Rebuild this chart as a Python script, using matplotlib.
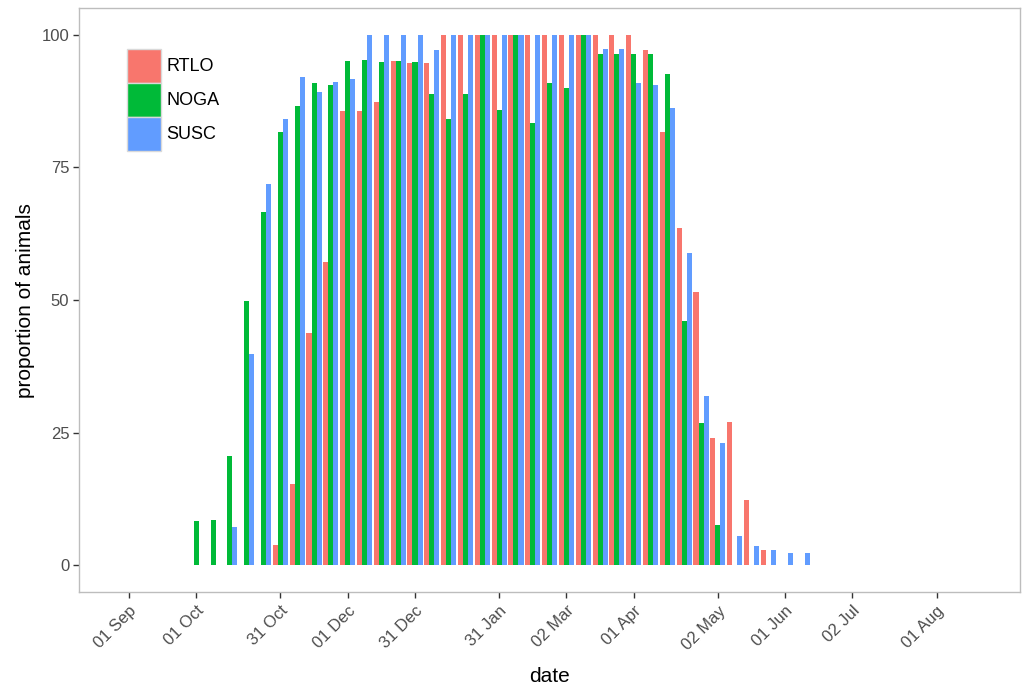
import numpy as np
import matplotlib
matplotlib.use("Agg")
import matplotlib.pyplot as plt
from matplotlib.patches import Patch

plt.rcParams['font.family'] = ['Liberation Sans', 'DejaVu Sans']

# weekly bins, week 0 = 01 Sep
weeks = list(range(4, 41))

rtlo = [0, 0, 0, 0, 0, 3.8, 15.4, 43.9, 57.1, 85.7, 85.7, 87.3, 95.1, 94.7, 94.7,
        100, 100, 100, 100, 100, 100, 100, 100, 100, 100, 100, 100, 97.1, 81.7,
        63.6, 51.5, 24.1, 27.1, 12.3, 3.0, 0, 0]
noga = [8.3, 8.6, 20.7, 49.9, 66.7, 81.7, 86.5, 90.9, 90.6, 95.1, 95.3, 94.9, 95.1,
        94.9, 88.9, 84.2, 88.9, 100, 85.9, 100, 83.3, 90.9, 90.0, 100, 96.3, 96.3,
        96.3, 96.3, 92.7, 46.1, 26.8, 7.6, 0, 0, 0, 0, 0]
susc = [0, 0, 7.3, 39.9, 71.9, 84.2, 92.0, 89.2, 91.2, 91.7, 100, 100, 100, 100,
        97.1, 100, 100, 100, 100, 100, 100, 100, 100, 100, 97.4, 97.4, 90.9, 90.6,
        86.2, 58.9, 32.0, 23.1, 5.6, 3.6, 2.9, 2.3, 2.3]

species = ["RTLO", "NOGA", "SUSC"]
colors = ["#F8766D", "#00BA38", "#619CFF"]

tick_weeks = [0, 4, 9, 13, 17, 22, 26, 30, 35, 39, 43, 48]
tick_labels = ["01 Sep", "01 Oct", "31 Oct", "01 Dec", "31 Dec", "31 Jan",
               "02 Mar", "01 Apr", "02 May", "01 Jun", "02 Jul", "01 Aug"]

fig = plt.figure(figsize=(10.30, 6.92), dpi=100)
ax = fig.add_axes([0.0767, 0.1445, 0.9133, 0.8435])

x = np.array(weeks, dtype=float)
w = 0.3
for i, (vals, col) in enumerate(zip([rtlo, noga, susc], colors)):
    ax.bar(x + (i - 1) * w, vals, width=w, color=col, linewidth=0)

ax.set_xlim(-2.97, 52.94)
ax.set_ylim(-5, 105)
ax.set_yticks([0, 25, 50, 75, 100])
ax.set_xticks(tick_weeks)
ax.set_xticklabels(tick_labels, rotation=45, ha='right', rotation_mode='anchor')

for s in ax.spines.values():
    s.set_color('#bdbdbd')
    s.set_linewidth(1.0)
ax.tick_params(axis='both', length=4, width=1, color='#333333',
               labelcolor='#4d4d4d', labelsize=12)
ax.tick_params(axis='y', pad=3)
ax.tick_params(axis='x', pad=4)

ax.set_xlabel("date", fontsize=15)
ax.set_ylabel("proportion of animals", fontsize=15)
ax.xaxis.set_label_coords(0.5, -0.128)
ax.yaxis.set_label_coords(-0.047, 0.5)

handles = [Patch(facecolor=c, edgecolor='#d9d9d9', linewidth=1) for c in colors]
ax.legend(handles, species, loc='upper left', bbox_to_anchor=(0.051, 0.931),
          frameon=False, fontsize=13, handlelength=1.88, handleheight=2.52,
          labelspacing=0.0, handletextpad=0.3, borderpad=0, borderaxespad=0)

fig.savefig("out.png", dpi=100)
